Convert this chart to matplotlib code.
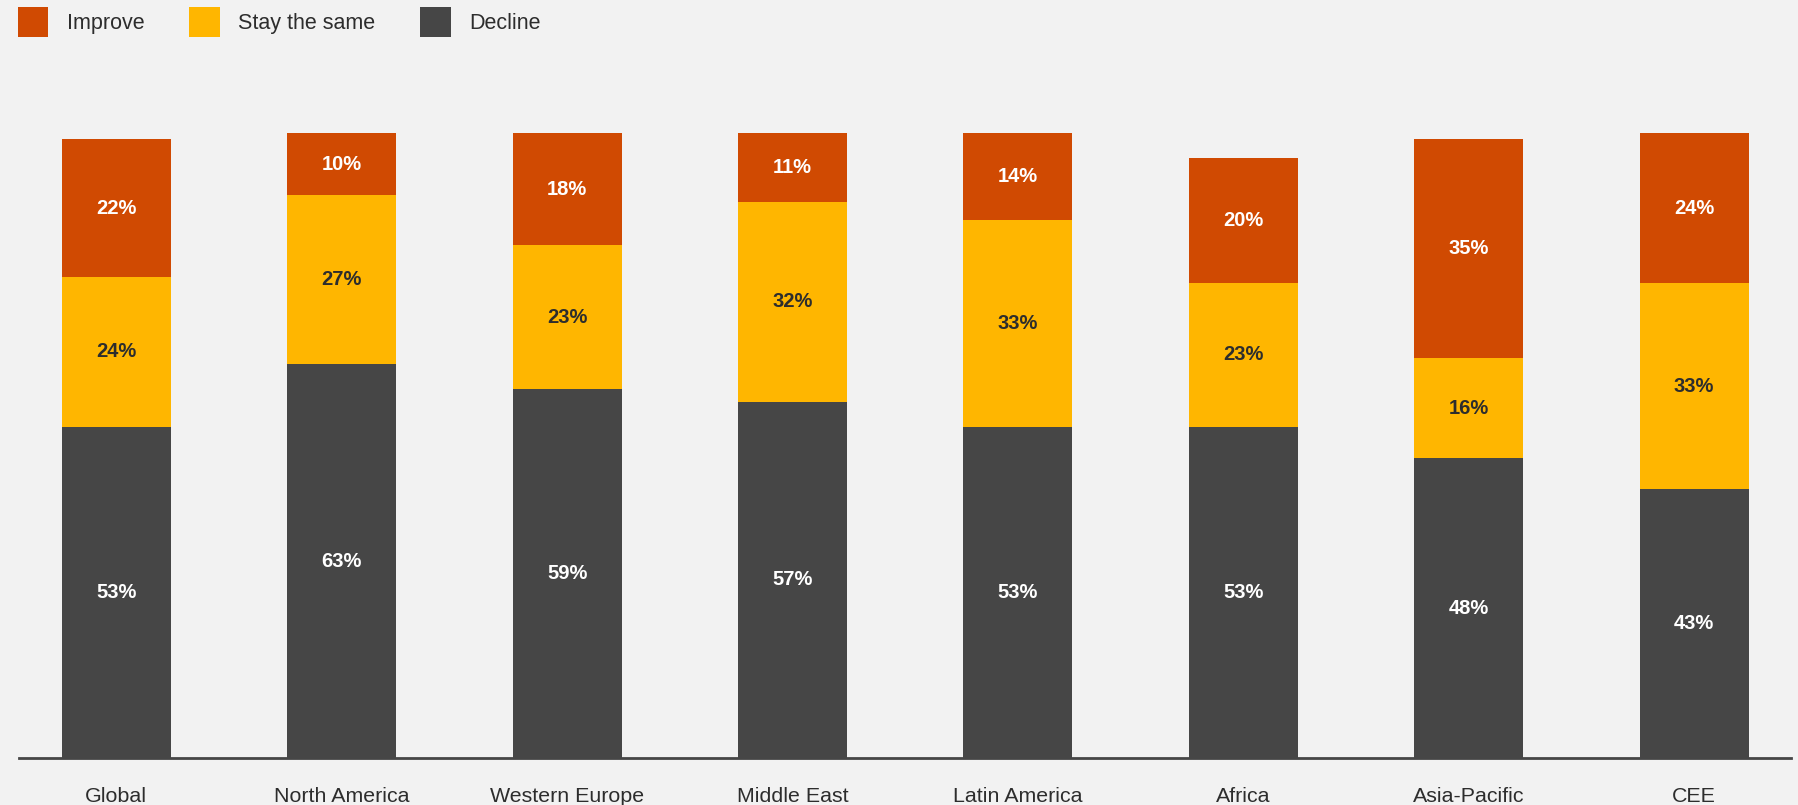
import numpy as np
import matplotlib
matplotlib.use('Agg')
import matplotlib.pyplot as plt
from matplotlib.patches import Patch

regions = ['Global', 'North America', 'Western Europe', 'Middle East',
           'Latin America', 'Africa', 'Asia-Pacific', 'CEE']
decline = [53, 63, 59, 57, 53, 53, 48, 43]
stay_same = [24, 27, 23, 32, 33, 23, 16, 33]
improve = [22, 10, 18, 11, 14, 20, 35, 24]

series_names = ['Improve', 'Stay the same', 'Decline']

c_improve = '#D04A02'
c_stay = '#FFB600'
c_decline = '#464646'
bg = '#F2F2F2'
txt = '#2D2D2D'

plt.rcParams['font.family'] = ['Liberation Sans', 'DejaVu Sans']

fig = plt.figure(figsize=(17.98, 8.05), dpi=100, facecolor=bg)
ax = fig.add_axes([19 / 1798, 47 / 805, 1772 / 1798, 625 / 805])
ax.set_facecolor(bg)

x = np.arange(len(regions))
w = 0.484
dec = np.array(decline)
sty = np.array(stay_same)
imp = np.array(improve)

ax.bar(x, dec, width=w, color=c_decline, linewidth=0)
ax.bar(x, sty, width=w, bottom=dec, color=c_stay, linewidth=0)
ax.bar(x, imp, width=w, bottom=dec + sty, color=c_improve, linewidth=0)

# value labels centred in each segment
for i in range(len(regions)):
    ax.text(x[i], dec[i] / 2, f'{dec[i]}%', ha='center', va='center',
            color='white', fontsize=14.5, fontweight='bold')
    ax.text(x[i], dec[i] + sty[i] / 2, f'{sty[i]}%', ha='center', va='center',
            color=txt, fontsize=14.5, fontweight='bold')
    ax.text(x[i], dec[i] + sty[i] + imp[i] / 2, f'{imp[i]}%', ha='center', va='center',
            color='white', fontsize=14.5, fontweight='bold')

# category labels below the baseline
for i, name in enumerate(regions):
    ax.text(x[i], -44 / 625, name, transform=ax.get_xaxis_transform(),
            ha='center', va='baseline', color=txt, fontsize=15.4, clip_on=False)

ax.set_xlim(-0.432, 7.43)
ax.set_ylim(0, 100)
ax.axhline(0, color=c_decline, linewidth=2, clip_on=False)
for s in ax.spines.values():
    s.set_visible(False)
ax.set_xticks([])
ax.set_yticks([])

handles = [Patch(facecolor=c_improve, edgecolor='none'),
           Patch(facecolor=c_stay, edgecolor='none'),
           Patch(facecolor=c_decline, edgecolor='none')]
fig.legend(handles, series_names, loc='upper left',
           bbox_to_anchor=(18 / 1798, 1 - 7 / 805), ncol=3, frameon=False,
           fontsize=15.5, handlelength=1.4, handleheight=1.77,
           handletextpad=0.86, columnspacing=2.1, borderpad=0,
           borderaxespad=0, labelcolor=txt)

fig.savefig('out.png', dpi=100, facecolor=bg)
